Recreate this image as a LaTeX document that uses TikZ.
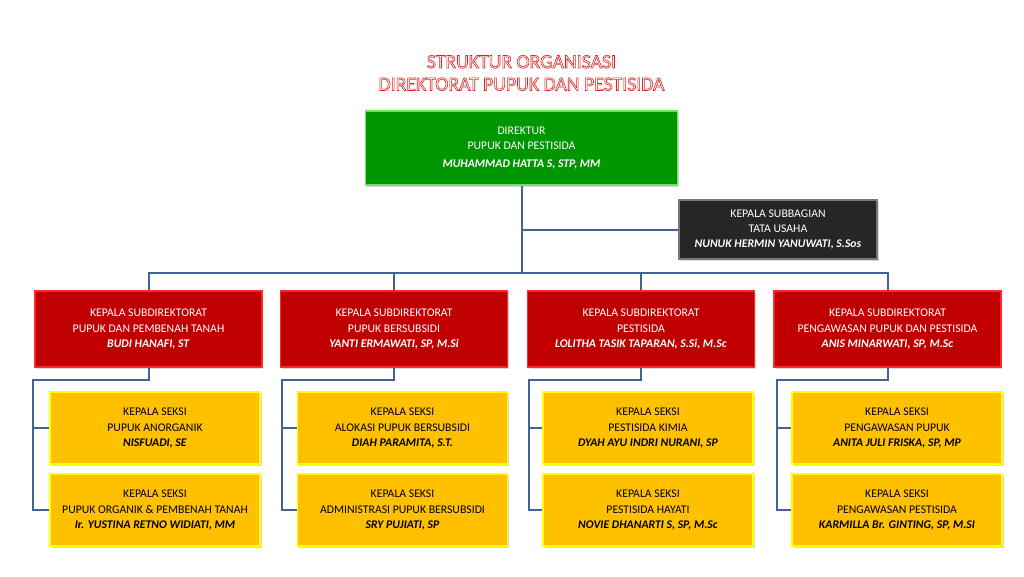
\documentclass[tikz,border=0pt]{standalone}
\usepackage{fontspec}
\setmainfont{Carlito}
\usepackage{xcolor}
\usetikzlibrary{shadows}

\definecolor{dirgreen}{RGB}{0,150,0}
\definecolor{dirrim}{RGB}{110,230,90}
\definecolor{subred}{RGB}{192,0,0}
\definecolor{subrim}{RGB}{255,40,40}
\definecolor{secgold}{RGB}{255,192,0}
\definecolor{secrim}{RGB}{255,255,0}
\definecolor{tudark}{RGB}{38,38,38}
\definecolor{turim}{RGB}{120,120,120}
\definecolor{linkblue}{RGB}{65,100,150}
\definecolor{titlered}{RGB}{225,30,30}

\newcommand{\who}[1]{\textbf{\textit{#1}}}

\begin{document}
\begin{tikzpicture}[x=0.75pt,y=-0.75pt,
	  box/.style={inner sep=0pt,align=center,font=\fontsize{8.8}{11.6}\selectfont,
	    line width=1.2pt,drop shadow={shadow xshift=1.2pt,shadow yshift=-1.5pt,opacity=0.3}},
	  dirbox/.style={box,fill=dirgreen,draw=dirrim,text=white,minimum width=234pt,minimum height=55.5pt},
	  tubox/.style={box,fill=tudark,draw=turim,text=white,minimum width=148.5pt,minimum height=44.25pt},
	  subbox/.style={box,fill=subred,draw=subrim,text=white,minimum width=170pt,minimum height=57pt},
	  secbox/.style={box,fill=secgold,draw=secrim,text=black,minimum width=157.5pt,minimum height=54pt},
	  link/.style={draw=linkblue,line width=1.5pt}]
	  \useasboundingbox[fill=white](0,0) rectangle (1024,576);

	  % boxes
	  \node[dirbox](dir) at (521.5,148) {DIREKTUR\\PUPUK DAN PESTISIDA\\[1.5pt]\who{MUHAMMAD HATTA S, STP, MM}};
	  \node[tubox](tu) at (778,229.5) {KEPALA SUBBAGIAN\\TATA USAHA\\\who{NUNUK HERMIN YANUWATI, S.Sos}};

	  \node[subbox](s1) at (148.5,329) {KEPALA SUBDIREKTORAT\\PUPUK DAN PEMBENAH TANAH\\\who{BUDI HANAFI, ST}};
	  \node[subbox](s2) at (394,329) {KEPALA SUBDIREKTORAT\\PUPUK BERSUBSIDI\\\who{YANTI ERMAWATI, SP, M.Si}};
	  \node[subbox](s3) at (641,329) {KEPALA SUBDIREKTORAT\\PESTISIDA\\\who{LOLITHA TASIK TAPARAN, S.Si, M.Sc}};
	  \node[subbox](s4) at (887.5,329) {KEPALA SUBDIREKTORAT\\PENGAWASAN PUPUK DAN PESTISIDA\\\who{ANIS MINARWATI, SP, M.Sc}};

	  \node[secbox](a1) at (155,428) {KEPALA SEKSI\\PUPUK ANORGANIK\\\who{NISFUADI, SE}};
	  \node[secbox](b1) at (155,510) {KEPALA SEKSI\\PUPUK ORGANIK \& PEMBENAH TANAH\\\who{Ir. YUSTINA RETNO WIDIATI, MM}};
	  \node[secbox](a2) at (402.5,428) {KEPALA SEKSI\\ALOKASI PUPUK BERSUBSIDI\\\who{DIAH PARAMITA, S.T.}};
	  \node[secbox](b2) at (402.5,510) {KEPALA SEKSI\\ADMINISTRASI PUPUK BERSUBSIDI\\\who{SRY PUJIATI, SP}};
	  \node[secbox](a3) at (648,428) {KEPALA SEKSI\\PESTISIDA KIMIA\\\who{DYAH AYU INDRI NURANI, SP}};
	  \node[secbox](b3) at (648,510) {KEPALA SEKSI\\PESTISIDA HAYATI\\\who{NOVIE DHANARTI S, SP, M.Sc}};
	  \node[secbox](a4) at (897,428) {KEPALA SEKSI\\PENGAWASAN PUPUK\\\who{ANITA JULI FRISKA, SP, MP}};
	  \node[secbox](b4) at (897,510) {KEPALA SEKSI\\PENGAWASAN PESTISIDA\\\who{KARMILLA Br. GINTING, SP, M.SI}};

	  % connectors
	  \coordinate(bus) at (521.5,273);
	  \coordinate(k1) at (33,380);
	  \coordinate(k2) at (282,380);
	  \coordinate(k3) at (529,380);
	  \coordinate(k4) at (777,380);
	  \draw[link](dir.south) -- (bus);
	  \draw[link](tu.west) -- (tu.west -| dir.south);
	  \draw[link](s1.north) |- (bus) -| (s4.north);
	  \draw[link](s2.north) -- (s2.north |- bus);
	  \draw[link](s3.north) -- (s3.north |- bus);
	  \foreach \i in {1,...,4}{
	    \draw[link](s\i.south) |- (k\i) |- (b\i.west);
	    \draw[link](k\i |- a\i.west) -- (a\i.west);
	  }

	  % title
	  \node[align=center,text=white,font=\fontsize{14.8}{16.8}\selectfont](title) at (521.5,73)
	    {\special{pdf:code 2 Tr 0.45 w 0.88 0.12 0.12 RG}STRUKTUR ORGANISASI\\DIREKTORAT PUPUK DAN PESTISIDA\special{pdf:code 0 Tr}};
	\end{tikzpicture}
\end{document}
